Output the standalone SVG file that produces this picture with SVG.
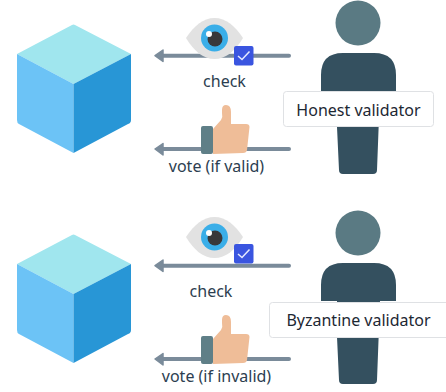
<svg xmlns="http://www.w3.org/2000/svg" width="446" height="392" viewBox="0 0 446 392">
<style>
text{font-family:"Noto Sans","DejaVu Sans",sans-serif;font-size:16px;text-anchor:middle;fill:#2c3e50}
.lbl{fill:#1d2833}
.box{fill:#fff;stroke:#dfe1e4;stroke-width:1}
.ln{stroke:#7a8b9a;stroke-width:4;stroke-linecap:round;fill:none}
.hd{fill:#7a8b9a;stroke:#7a8b9a;stroke-width:1.500;stroke-linejoin:round}
</style>
<defs>
<g id="cube">
<path d="M72 25Q73.500 24 75 25L131 54L73.500 84L17 54Z" fill="#a0e6ee"/>
<path d="M17 54L73.500 84V153L19 124Q17 123 17 120Z" fill="#6cc3f6"/>
<path d="M131 54L73.500 84V153L128 124Q131 123 131 120Z" fill="#2896d6"/>
</g>
<g id="person">
<circle cx="358" cy="23" r="22.500" fill="#5a7a83"/>
<path d="M321 91V75Q321 53 343 53H374Q396 53 396 75V91H380L377 170Q377 174 373 174H343Q339 174 339 170L337 127V91Z" fill="#34505f"/>
</g>
<g id="eye">
<path d="M186 38C194 26 203 18 214.500 18C226 18 235 26 243 38C235 51 226 59 214.500 59C203 59 194 51 186 38Z" fill="#e2e2e2"/>
<circle cx="214.500" cy="38" r="13.500" fill="#3aaee8"/>
<circle cx="215" cy="39" r="7.500" fill="#38383a"/>
<circle cx="209" cy="34" r="3" fill="#fff"/>
</g>
<g id="check"><rect x="234" y="46" width="19.500" height="19.500" rx="2" fill="#3a55e0"/>
<path d="M238 56L242 59.500L249.500 51.500" fill="none" stroke="#e6ebff" stroke-width="1.500"/></g>
<g id="thumb">
<path d="M213 129L221 120Q223 117 222 113V110Q222 105 226 105Q231 105 231 112V124H246Q249.500 124 249.500 127L247 150Q246.500 153 243 153L213 154Z" fill="#efbd98"/>
<rect x="201" y="126" width="12" height="28" rx="2" fill="#5f7f87"/>
</g>
</defs>
<g id="connectors">
<path class="ln" d="M160 55.700H289"/><path class="hd" d="M155 55.700L163 50V61.500Z"/>
<path class="ln" d="M160 149H289"/><path class="hd" d="M155 149L163 143.500V155Z"/>
<path class="ln" d="M160 265.700H289"/><path class="hd" d="M155 265.700L163 260V271.500Z"/>
<path class="ln" d="M160 359H289"/><path class="hd" d="M155 359L163 353.500V365Z"/>
</g>
<g id="block-1"><use href="#cube"/></g>
<g id="block-2"><use href="#cube" y="210"/></g>
<g id="eye-1"><use href="#eye"/><use href="#check"/></g>
<g id="eye-2"><use href="#eye" y="199"/><use href="#check" y="198"/></g>
<g id="thumb-1"><use href="#thumb"/></g>
<g id="thumb-2"><use href="#thumb" y="210"/></g>
<text x="224.500" y="86.500">check</text>
<text x="216.500" y="172">vote (if valid)</text>
<text x="211" y="296.500">check</text>
<text x="216.500" y="382">vote (if invalid)</text>
<g id="honest-validator"><use href="#person"/>
<rect class="box" x="283.500" y="91.500" width="150" height="35" rx="3"/>
<text class="lbl" x="358.500" y="115.500">Honest validator</text></g>
<g id="byzantine-validator"><use href="#person" y="210"/>
<rect class="box" x="269.500" y="302.500" width="180" height="35" rx="3"/>
<text class="lbl" x="358.500" y="326">Byzantine validator</text></g>
</svg>
